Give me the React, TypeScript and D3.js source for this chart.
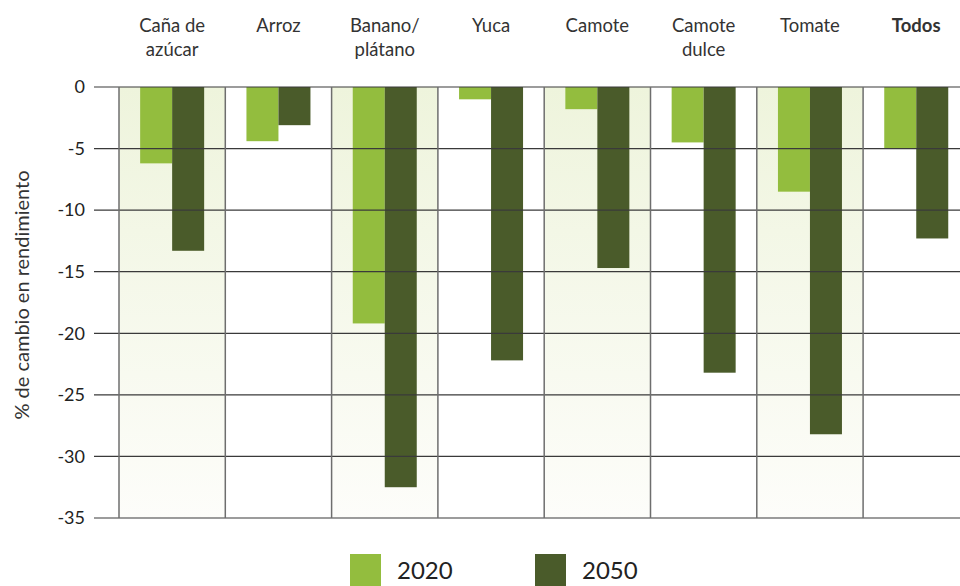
import React from "react";
import * as d3 from "d3";

const categories = [
  ["Caña de", "azúcar"],
  ["Arroz"],
  ["Banano/", "plátano"],
  ["Yuca"],
  ["Camote"],
  ["Camote", "dulce"],
  ["Tomate"],
  ["Todos"],
];
const values2020 = [-6.2, -4.4, -19.2, -1.0, -1.8, -4.5, -8.5, -5.0];
const values2050 = [-13.3, -3.1, -32.5, -22.2, -14.7, -23.2, -28.2, -12.3];
const yTicks = [0, -5, -10, -15, -20, -25, -30, -35];
const seriesNames = ["2020", "2050"];

const W = 960;
const H = 586;
const C2020 = "#93bd3e";
const C2050 = "#4a5b2a";
const FONT = "Lato, 'Open Sans', sans-serif";

export default function App() {
  const x0 = 119;
  const bandW = 106.3;
  const x = d3
    .scaleBand<number>()
    .domain(d3.range(categories.length))
    .range([x0, x0 + bandW * categories.length])
    .paddingInner(0)
    .paddingOuter(0);
  const y = d3.scaleLinear().domain([0, -35]).range([87, 518]);
  const barW = 32;

  return (
    <svg
      width={W}
      height={H}
      style={{ position: "absolute", left: 0, top: 0, display: "block" }}
      fontFamily={FONT}
    >
      <defs>
        <linearGradient id="shade" x1="0" y1="0" x2="0" y2="1">
          <stop offset="0" stopColor="#eef4dc" />
          <stop offset="1" stopColor="#fdfdfa" />
        </linearGradient>
      </defs>
      {categories.map((_, i) =>
        i % 2 === 0 ? (
          <rect
            key={"s" + i}
            x={x(i)!}
            y={y(0)}
            width={x.bandwidth()}
            height={y(-35) - y(0)}
            fill="url(#shade)"
          />
        ) : null
      )}
      {categories.map((_, i) => {
        const cx = x(i)! + x.bandwidth() / 2;
        return (
          <g key={"b" + i}>
            <rect
              x={cx - barW}
              y={y(0)}
              width={barW}
              height={y(values2020[i]) - y(0)}
              fill={C2020}
            />
            <rect
              x={cx}
              y={y(0)}
              width={barW}
              height={y(values2050[i]) - y(0)}
              fill={C2050}
            />
          </g>
        );
      })}
      {yTicks.map((t) => (
        <g key={"t" + t}>
          <line
            x1={94}
            x2={975}
            y1={y(t)}
            y2={y(t)}
            stroke="#3a3a3a"
            strokeWidth={1.2}
          />
          <text
            x={85}
            y={y(t)}
            dy="0.35em"
            textAnchor="end"
            fontSize={18}
            fill="#222"
          >
            {t === 0 ? "0" : "-" + Math.abs(t)}
          </text>
        </g>
      ))}
      {d3.range(categories.length + 1).map((i) => (
        <line
          key={"v" + i}
          x1={x0 + bandW * i}
          x2={x0 + bandW * i}
          y1={y(0)}
          y2={y(-35)}
          stroke="#6e6e6e"
          strokeWidth={1.5}
        />
      ))}
      {categories.map((lines, i) => {
        const cx = x(i)! + x.bandwidth() / 2;
        return (
          <text
            key={"c" + i}
            x={cx}
            textAnchor="middle"
            fontSize={18.5}
            fill="#333"
            fontWeight={i === categories.length - 1 ? 700 : 400}
          >
            {lines.map((l, j) => (
              <tspan key={j} x={cx} y={32 + j * 24}>
                {l}
              </tspan>
            ))}
          </text>
        );
      })}
      <text
        transform={`translate(29,295) rotate(-90)`}
        textAnchor="middle"
        fontSize={20}
        fill="#333"
      >
        % de cambio en rendimiento
      </text>
      {seriesNames.map((s, i) => {
        const lx = 350 + i * 185;
        return (
          <g key={"l" + s}>
            <rect x={lx} y={554} width={31} height={34} fill={i === 0 ? C2020 : C2050} />
            <text x={lx + 47} y={571} dy="0.35em" fontSize={24} fill="#222">
              {s}
            </text>
          </g>
        );
      })}
    </svg>
  );
}
